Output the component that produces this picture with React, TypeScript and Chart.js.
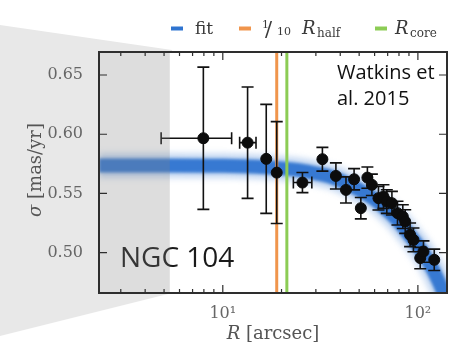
import { useEffect, useRef } from "react";
import { Chart, registerables } from "chart.js";

Chart.register(...registerables);

// Velocity dispersion profile of NGC 104 (47 Tuc)
const radius = [7.95, 13.4, 16.7, 18.9, 25.6, 32.4, 38.0, 42.8, 47.1, 51.0, 55.1, 58.1, 62.8, 66.6, 69.3, 73.6, 78.6, 83.7, 86.1, 91.2, 94.9, 102.8, 106.8, 121.3];
const sigma = [0.5966, 0.5929, 0.5792, 0.5676, 0.5592, 0.5789, 0.5648, 0.553, 0.562, 0.5376, 0.5634, 0.5573, 0.546, 0.5474, 0.5432, 0.5418, 0.5334, 0.5305, 0.5263, 0.5151, 0.5108, 0.4955, 0.501, 0.494];
const sigmaErr = [0.06, 0.047, 0.046, 0.043, 0.0085, 0.01, 0.011, 0.011, 0.009, 0.009, 0.009, 0.009, 0.01, 0.01, 0.01, 0.01, 0.01, 0.01, 0.01, 0.01, 0.01, 0.009, 0.009, 0.009];
// radial bin edges (null where the bin is narrower than the marker)
const radiusLo: (number | null)[] = [4.83, 12.2, null, null, 23.0, null, null, null, null, null, null, null, null, null, null, null, null, null, null, null, null, null, null, null];
const radiusHi: (number | null)[] = [11.1, 14.8, null, null, 28.6, null, null, null, null, null, null, null, null, null, null, null, null, null, null, null, null, null, null, null];

// model fit
const fitRadius = [2.32, 5, 10, 15, 20, 25, 30, 35, 40, 50, 60, 70, 80, 90, 100, 110, 120, 130, 141];
const fitSigma = [0.5737, 0.5737, 0.5733, 0.5725, 0.5712, 0.5695, 0.567, 0.5645, 0.561, 0.553, 0.545, 0.5355, 0.526, 0.5155, 0.506, 0.496, 0.485, 0.473, 0.459];

// characteristic radii (arcsec)
const rHalfTenth = 18.9;
const rCore = 21.3;
// inner region without reliable data (shaded)
const innerLimit = 5.35;

const xRange = [2.32, 141];
const yRange = [0.466, 0.6694];
const xTicks = [10, 100];
const xTickLabels = ["10\u00b9", "10\u00b2"];
const xMinorTicks = [3, 4, 5, 6, 7, 8, 9, 20, 30, 40, 50, 60, 70, 80, 90];
const yTicks = [0.5, 0.55, 0.6, 0.65];

const BLUE = "#2f74d0";
const ORANGE = "#f0954c";
const GREEN = "#8ccc55";
const SERIF = "'DejaVu Serif', serif";

const fitPoints = fitRadius.map((r, i) => ({ x: r, y: fitSigma[i] }));
const dataPoints = radius.map((r, i) => ({ x: r, y: sigma[i] }));

const decor = {
  id: "decor",
  beforeDraw(chart: any) {
    const { ctx, chartArea: a } = chart;
    ctx.save();
    ctx.fillStyle = "#ffffff";
    ctx.fillRect(0, 0, chart.width, chart.height);
    // zoom cone towards the shaded inset
    ctx.fillStyle = "#e8e8e8";
    ctx.beginPath();
    ctx.moveTo(0, 25);
    ctx.lineTo(172, 50);
    ctx.lineTo(172, 293);
    ctx.lineTo(0, 336);
    ctx.closePath();
    ctx.fill();
    ctx.fillStyle = "#ffffff";
    ctx.fillRect(a.left, a.top, a.right - a.left, a.bottom - a.top);
    ctx.restore();
  },
  beforeDatasetDraw(chart: any, args: any) {
    const { ctx, chartArea: a } = chart;
    const label = chart.data.datasets[args.index].label;
    if (label === "fit-halo" || label === "fit") {
      ctx.save();
      ctx.filter = label === "fit" ? "blur(1.5px)" : "blur(3px)";
    }
    if (label === "data") {
      const xs = chart.scales.x;
      const ys = chart.scales.y;
      ctx.save();
      // reference radii
      ctx.lineWidth = 3;
      [[rHalfTenth, ORANGE], [rCore, GREEN]].forEach(([r, c]: any) => {
        const px = xs.getPixelForValue(r);
        ctx.strokeStyle = c;
        ctx.beginPath();
        ctx.moveTo(px, a.top);
        ctx.lineTo(px, a.bottom);
        ctx.stroke();
      });
      // error bars
      ctx.strokeStyle = "#111111";
      ctx.lineWidth = 1.6;
      const cap = 6;
      radius.forEach((r, i) => {
        const px = xs.getPixelForValue(r);
        const py = ys.getPixelForValue(sigma[i]);
        const top = ys.getPixelForValue(sigma[i] + sigmaErr[i]);
        const bot = ys.getPixelForValue(sigma[i] - sigmaErr[i]);
        ctx.beginPath();
        ctx.moveTo(px, top);
        ctx.lineTo(px, bot);
        ctx.moveTo(px - cap, top);
        ctx.lineTo(px + cap, top);
        ctx.moveTo(px - cap, bot);
        ctx.lineTo(px + cap, bot);
        const lo = radiusLo[i];
        const hi = radiusHi[i];
        if (lo !== null && hi !== null) {
          const l = xs.getPixelForValue(lo);
          const h = xs.getPixelForValue(hi);
          ctx.moveTo(l, py);
          ctx.lineTo(h, py);
          ctx.moveTo(l, py - cap);
          ctx.lineTo(l, py + cap);
          ctx.moveTo(h, py - cap);
          ctx.lineTo(h, py + cap);
        }
        ctx.stroke();
      });
      ctx.restore();
    }
  },
  afterDatasetDraw(chart: any, args: any) {
    const label = chart.data.datasets[args.index].label;
    if (label === "fit-halo" || label === "fit") chart.ctx.restore();
  },
  afterDatasetsDraw(chart: any) {
    const { ctx, chartArea: a } = chart;
    ctx.save();
    ctx.fillStyle = "#1a1a1a";
    ctx.font = "28px 'Open Sans'";
    ctx.textBaseline = "alphabetic";
    ctx.textAlign = "left";
    ctx.fillText("NGC 104", 120, 267);
    const edge = chart.scales.x.getPixelForValue(innerLimit);
    ctx.fillStyle = "rgba(128,128,128,0.27)";
    ctx.fillRect(a.left, a.top, edge - a.left, a.bottom - a.top);
    ctx.restore();
  },
  afterDraw(chart: any) {
    const { ctx, chartArea: a } = chart;
    const xs = chart.scales.x;
    const ys = chart.scales.y;
    ctx.save();
    // frame
    ctx.strokeStyle = "#2e2e2e";
    ctx.lineWidth = 2;
    ctx.strokeRect(a.left, a.top, a.right - a.left, a.bottom - a.top);
    // inward ticks
    ctx.lineWidth = 1.2;
    ctx.beginPath();
    const xTick = (v: number, len: number) => {
      const px = xs.getPixelForValue(v);
      ctx.moveTo(px, a.bottom);
      ctx.lineTo(px, a.bottom - len);
      ctx.moveTo(px, a.top);
      ctx.lineTo(px, a.top + len);
    };
    xMinorTicks.forEach((v) => xTick(v, 4));
    xTicks.forEach((v) => xTick(v, 8));
    yTicks.forEach((v) => {
      const py = ys.getPixelForValue(v);
      ctx.moveTo(a.left, py);
      ctx.lineTo(a.left + 8, py);
      ctx.moveTo(a.right, py);
      ctx.lineTo(a.right - 8, py);
    });
    ctx.stroke();

    // axis titles
    ctx.fillStyle = "#555555";
    ctx.textBaseline = "middle";
    const drawMixed = (parts: [string, string][], cx: number, cy: number) => {
      let w = 0;
      parts.forEach(([t, f]) => {
        ctx.font = f;
        w += ctx.measureText(t).width;
      });
      let x = cx - w / 2;
      ctx.textAlign = "left";
      parts.forEach(([t, f]) => {
        ctx.font = f;
        ctx.fillText(t, x, cy);
        x += ctx.measureText(t).width;
      });
    };
    drawMixed([["R", `italic 18px ${SERIF}`], [" [arcsec]", `18px ${SERIF}`]], 273, 334);
    ctx.save();
    ctx.translate(36, 170);
    ctx.rotate(-Math.PI / 2);
    drawMixed([["\u03c3", `italic 18px ${SERIF}`], [" [mas/yr]", `18px ${SERIF}`]], 0, 0);
    ctx.restore();

    // legend
    ctx.lineWidth = 4;
    ctx.lineCap = "butt";
    const dash = (x0: number, c: string) => {
      ctx.strokeStyle = c;
      ctx.beginPath();
      ctx.moveTo(x0, 28.5);
      ctx.lineTo(x0 + 12, 28.5);
      ctx.stroke();
    };
    dash(171, BLUE);
    dash(239, ORANGE);
    dash(375, GREEN);
    ctx.fillStyle = "#3a3a3a";
    ctx.textBaseline = "alphabetic";
    ctx.textAlign = "left";
    ctx.font = `17px ${SERIF}`;
    ctx.fillText("fit", 195, 34);
    ctx.font = `11px ${SERIF}`;
    ctx.fillText("1", 262, 28);
    ctx.font = `21px ${SERIF}`;
    ctx.fillText("/", 265, 36);
    ctx.font = `11px ${SERIF}`;
    ctx.fillText("10", 277, 35);
    ctx.font = `italic 18px ${SERIF}`;
    ctx.fillText("R", 302, 34);
    ctx.font = `12px ${SERIF}`;
    ctx.fillText("half", 317, 37);
    ctx.font = `italic 18px ${SERIF}`;
    ctx.fillText("R", 395, 34);
    ctx.font = `12px ${SERIF}`;
    ctx.fillText("core", 410, 37);

    // citation
    ctx.fillStyle = "#111111";
    ctx.font = "20px 'Open Sans'";
    ctx.fillText("Watkins et", 337, 79);
    ctx.fillText("al. 2015", 337, 105);
    ctx.restore();
  },
};

export default function App() {
  const ref = useRef<HTMLCanvasElement | null>(null);

  useEffect(() => {
    if (!ref.current) return;
    const chart = new Chart(ref.current, {
      type: "line",
      data: {
        datasets: [
          {
            label: "data",
            type: "scatter",
            data: dataPoints,
            backgroundColor: "#0c0c0c",
            borderColor: "#0c0c0c",
            pointRadius: 5.5,
            showLine: false,
            order: 0,
          } as any,
          {
            label: "fit",
            data: fitPoints,
            borderColor: "rgba(47,116,208,0.95)",
            borderWidth: 14,
            pointRadius: 0,
            fill: false,
            cubicInterpolationMode: "monotone",
            order: 1,
          },
          {
            label: "fit-halo",
            data: fitPoints,
            borderColor: "rgba(47,116,208,0.3)",
            borderWidth: 24,
            pointRadius: 0,
            fill: false,
            cubicInterpolationMode: "monotone",
            order: 2,
          },
        ],
      },
      options: {
        responsive: false,
        animation: false,
        devicePixelRatio: 1,
        layout: { padding: { left: 0, right: 7, top: 52, bottom: 0 } },
        plugins: { legend: { display: false }, tooltip: { enabled: false } },
        scales: {
          x: {
            type: "logarithmic",
            min: xRange[0],
            max: xRange[1],
            grid: { display: false },
            border: { display: false },
            ticks: {
              padding: 3,
              color: "#666666",
              font: { family: SERIF, size: 16 },
              maxRotation: 0,
              autoSkip: false,
              callback: (v: any) => {
                const i = xTicks.indexOf(Number(v));
                return i >= 0 ? xTickLabels[i] : "";
              },
            },
            afterBuildTicks: (s: any) => {
              s.ticks = xTicks.map((v) => ({ value: v }));
            },
            afterFit: (s: any) => {
              s.height = 61;
            },
          },
          y: {
            type: "linear",
            min: yRange[0],
            max: yRange[1],
            grid: { display: false },
            border: { display: false },
            ticks: {
              padding: 8,
              color: "#666666",
              font: { family: SERIF, size: 16 },
              callback: (v: any) => Number(v).toFixed(2),
            },
            afterBuildTicks: (s: any) => {
              s.ticks = yTicks.map((v) => ({ value: v }));
            },
            afterFit: (s: any) => {
              s.width = 99;
            },
          },
        },
      },
      plugins: [decor],
    });
    return () => chart.destroy();
  }, []);

  return (
    <canvas
      ref={ref}
      width={454}
      height={354}
      style={{ position: "fixed", left: 0, top: 0, display: "block" }}
    />
  );
}
